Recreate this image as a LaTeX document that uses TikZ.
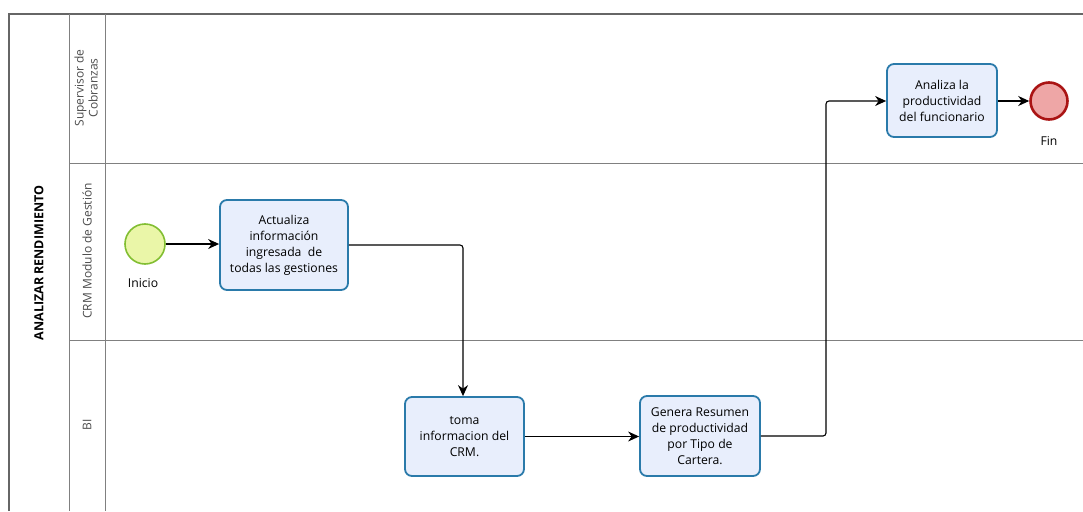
\documentclass[tikz,border=0pt]{standalone}
\usepackage{fontspec}
\setmainfont{Open Sans}
\usetikzlibrary{arrows.meta}
\definecolor{taskfill}{RGB}{232,238,252}
\definecolor{taskline}{RGB}{42,122,170}
\definecolor{startfill}{RGB}{234,246,168}
\definecolor{startline}{RGB}{130,190,50}
\definecolor{endfill}{RGB}{238,166,166}
\definecolor{endline}{RGB}{170,20,20}
\definecolor{laneline}{RGB}{128,128,128}
\begin{document}
\begin{tikzpicture}[x=1pt,y=-1pt,
  every node/.style={font=\fontsize{12.2}{16}\selectfont},
  task/.style={draw=taskline, fill=taskfill, line width=1.8pt, rounded corners=7pt,
    align=center, inner sep=2pt},
  startev/.style={circle, draw=startline, fill=startfill, line width=1.6pt, minimum size=40pt, inner sep=0pt},
  endev/.style={circle, draw=endline, fill=endfill, line width=2.6pt, minimum size=37pt, inner sep=0pt},
  flow/.style={draw=black, line width=1.1pt, rounded corners=3pt, -{Stealth[length=11pt,width=10pt]}},
  lane/.style={draw=laneline, line width=0.9pt},
  lanelabel/.style={rotate=90, align=center, text=black!70, font=\fontsize{12}{14}\selectfont}]
\useasboundingbox (0,0) rectangle (1083,511);
\fill[white] (0,0) rectangle (1083,511);

% pool and lanes
\draw[lane, line width=1.3pt, draw=black!60] (9,511) -- (9,14) -- (1083,14);
\draw[lane] (69,14) -- (69,511);
\draw[lane] (105,14) -- (105,511);
\draw[lane] (69,163) -- (1083,163);
\draw[lane] (69,340) -- (1083,340);

\node[rotate=90, font=\bfseries\fontsize{12.5}{14}\selectfont] (pool) at (39,263) {ANALIZAR RENDIMIENTO};
\node[lanelabel] (l1) at (86,88) {Supervisor de\\Cobranzas};
\node[lanelabel] (l2) at (87,251) {CRM Modulo de Gestión};
\node[lanelabel] (l3) at (87,425) {BI};

% events
\node[startev] (inicio) at (145,244) {};
\node (inicioT) at (143,283) {Inicio};
\node[endev] (fin) at (1049,101) {};
\node (finT) at (1049,141) {Fin};

% tasks
\node[task, minimum width=128pt, minimum height=90pt] (t1) at (284,245)
  {Actualiza\\información\\ingresada\ \ de\\todas las gestiones};
\node[task, minimum width=119pt, minimum height=79pt] (t2) at (464.5,436.5)
  {toma\\informacion del\\CRM.};
\node[task, minimum width=120pt, minimum height=80pt] (t3) at (700,436)
  {Genera Resumen\\de productividad\\por Tipo de\\Cartera.};
\node[task, minimum width=110pt, minimum height=73pt] (t4) at (942,100.5)
  {Analiza la\\productividad\\del funcionario};

% sequence flows
\draw[flow] (inicio.east) -- (t1.west |- inicio.east);
\draw[flow] (t1.east) -- (463,245) -- (t2.north -| 463,0);
\draw[flow] (t2.east) -- (t3.west |- t2.east);
\draw[flow] (t3.east) -- (826,436) -- (826,101) -- (t4.west |- 0,101);
\draw[flow] (t4.east |- 0,101) -- (fin.west);
\end{tikzpicture}
\end{document}
